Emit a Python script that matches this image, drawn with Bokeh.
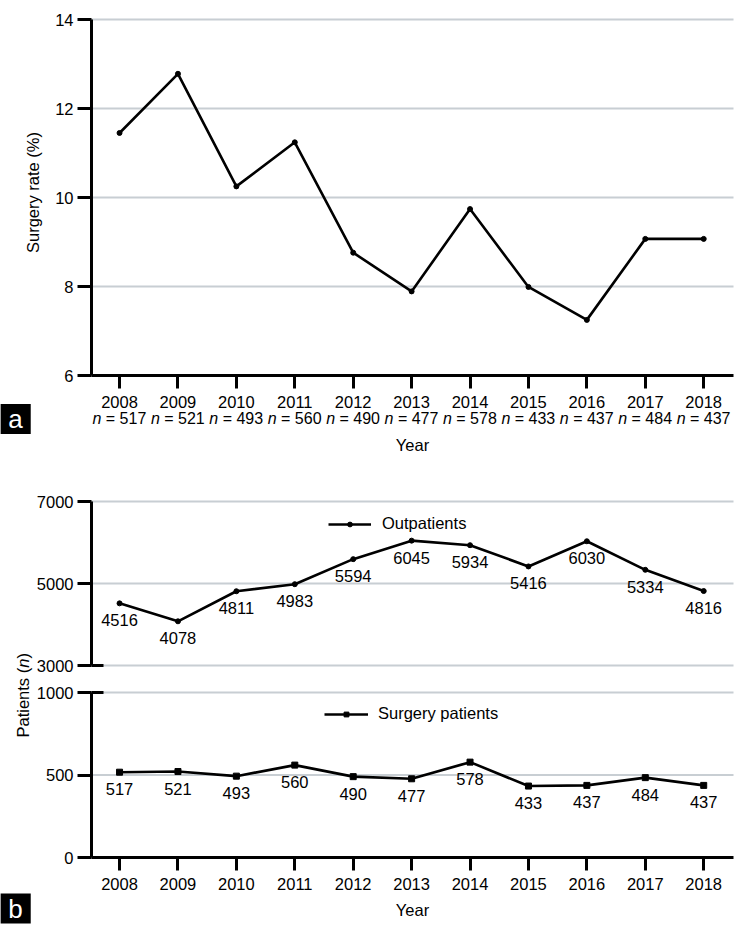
import math
from bokeh.plotting import figure
from bokeh.models import (Range1d, FixedTicker, LabelSet, Label, ColumnDataSource,
                          Legend, LegendItem, LinearAxis)
from bokeh.layouts import column
from bokeh.core.properties import value
from bokeh.embed import file_html
from bokeh.resources import INLINE

# ---------------- data ----------------
years = [2008, 2009, 2010, 2011, 2012, 2013, 2014, 2015, 2016, 2017, 2018]
surgery_rate = [11.45, 12.78, 10.25, 11.24, 8.76, 7.89, 9.74, 7.99, 7.25, 9.07, 9.07]
outpatients = [4516, 4078, 4811, 4983, 5594, 6045, 5934, 5416, 6030, 5334, 4816]
surgery_patients = [517, 521, 493, 560, 490, 477, 578, 433, 437, 484, 437]
rate_ticks = [6, 8, 10, 12, 14]
out_ticks = [3000, 5000, 7000]
surg_ticks = [0, 500, 1000]

FONT = "Liberation Sans"
FS = "16.5px"
GRID = "#c8ced3"
X_LO, X_HI = 2007.52, 2018.51      # extent of the plotted x axis
W = 745                            # canvas width
AX_L = 91                          # pixel position of the y axes
PPY = 642 / (X_HI - X_LO)          # pixels per year
XR = Range1d(X_LO - AX_L / PPY, X_LO + (W - AX_L) / PPY)
BRK = 12 / PPY                     # length of the axis-break stubs


def base_fig(height, yr):
    p = figure(width=W, height=height, x_range=XR, y_range=yr, toolbar_location=None,
               output_backend="svg", min_border=0, x_axis_location=None,
               y_axis_location=None, outline_line_color=None)
    p.grid.visible = False
    return p


def y_axis(p, ticks, bounds, rname="default"):
    ax = LinearAxis(fixed_location=X_LO, bounds=bounds, y_range_name=rname,
                    ticker=FixedTicker(ticks=ticks), axis_line_width=3,
                    major_tick_line_width=3, major_tick_out=14, major_tick_in=0,
                    minor_tick_out=0, major_label_standoff=4,
                    major_label_text_font=FONT, major_label_text_font_size=FS,
                    major_label_text_color="black")
    p.add_layout(ax, "left")


def x_axis(p, loc, rname="default"):
    ax = LinearAxis(fixed_location=loc, bounds=(X_LO, X_HI), y_range_name=rname,
                    ticker=FixedTicker(ticks=years), axis_line_width=3,
                    major_tick_line_width=3, major_tick_out=13, major_tick_in=0,
                    minor_tick_out=0, major_label_standoff=7,
                    major_label_text_font=FONT, major_label_text_font_size=FS,
                    major_label_text_color="black")
    p.add_layout(ax, "below")


def grid(p, ticks, rname="default"):
    p.segment(x0=[X_LO] * len(ticks), x1=[X_HI] * len(ticks), y0=ticks, y1=ticks,
              line_color=GRID, line_width=2, y_range_name=rname)


def tag(p, txt, y, y_off, rname="default"):
    p.add_layout(Label(x=X_LO, y=y, x_offset=15 - AX_L, y_offset=y_off, text=txt,
                       y_range_name=rname, text_align="center", text_baseline="middle",
                       text_color="white", text_font=FONT, text_font_size="26px",
                       background_fill_color="black",
                       padding=dict(left=8, right=8, top=0, bottom=0)))


def value_labels(p, ys, rname="default"):
    src = ColumnDataSource(dict(x=years, y=ys, t=[str(v) for v in ys]))
    p.add_layout(LabelSet(x="x", y="y", text="t", source=src, y_offset=-17,
                          y_range_name=rname, text_align="center", text_baseline="middle",
                          text_font=value(FONT), text_font_size=FS, text_color="black"))


# ---------------- panel a ----------------
HA = 470
PXA = 44.5                                   # pixels per rate unit
pA = base_fig(HA, Range1d(14 - (HA - 19) / PXA, 14 + 19 / PXA))
grid(pA, [8, 10, 12, 14])
pA.line(years, surgery_rate, line_width=2.6, color="black")
pA.scatter(years, surgery_rate, size=5, color="black")
y_axis(pA, rate_ticks, (6, 14))
x_axis(pA, 6)

src_n = ColumnDataSource(dict(x=years, y=[6] * len(years), n=["n"] * len(years),
                              v=["= %d" % v for v in surgery_patients]))
pA.add_layout(LabelSet(x="x", y="y", text="n", source=src_n, x_offset=-27, y_offset=-43,
                       text_align="left", text_baseline="middle",
                       text_font=value(FONT), text_font_size="16px",
                       text_font_style="italic", text_color="black"))
pA.add_layout(LabelSet(x="x", y="y", text="v", source=src_n, x_offset=-13.7, y_offset=-43,
                       text_align="left", text_baseline="middle",
                       text_font=value(FONT), text_font_size="16px", text_color="black"))
pA.add_layout(Label(x=(X_LO + X_HI) / 2, y=6, y_offset=-69, text="Year",
                    text_align="center", text_baseline="middle", text_font=FONT,
                    text_font_size=FS, text_color="black"))
pA.add_layout(Label(x=X_LO, y=10, x_offset=32.5 - AX_L, y_offset=5,
                    text="Surgery rate (%)", angle=math.pi / 2, text_align="center",
                    text_baseline="middle", text_font=FONT, text_font_size=FS,
                    text_color="black"))
tag(pA, "a", 6, -43.5)

# ---------------- panel b (broken y axis: two ranges on one canvas) ----------------
HB = 455
PXO = 0.041                                  # pixels per outpatient
PXS = 0.165                                  # pixels per surgery patient
pB = base_fig(HB, Range1d(3000 - (HB - 195) / PXO, 7000 + 31 / PXO))
pB.extra_y_ranges = {"surg": Range1d(0 - (HB - 387) / PXS, 1000 + 222 / PXS)}

grid(pB, out_ticks)
grid(pB, [500, 1000], "surg")
pB.segment(x0=[X_LO], y0=[3000], x1=[X_LO + BRK], y1=[3000], line_width=3, color="black")
pB.segment(x0=[X_LO], y0=[1000], x1=[X_LO + BRK], y1=[1000], line_width=3, color="black",
           y_range_name="surg")

r1 = pB.line(years, outpatients, line_width=2.6, color="black")
r2 = pB.scatter(years, outpatients, size=5, color="black")
r3 = pB.line(years, surgery_patients, line_width=2.6, color="black", y_range_name="surg")
r4 = pB.scatter(years, surgery_patients, size=6, marker="square", color="black",
                y_range_name="surg")

y_axis(pB, out_ticks, (3000, 7000))
y_axis(pB, surg_ticks, (0, 1000), "surg")
x_axis(pB, 0, "surg")

value_labels(pB, outpatients)
value_labels(pB, surgery_patients, "surg")

leg_kw = dict(glyph_height=12, label_height=12, padding=0, margin=0,
              border_line_color=None, background_fill_alpha=0, label_text_font=FONT,
              label_text_font_size=FS, label_text_color="black")
pB.add_layout(Legend(items=[LegendItem(label="Outpatients", renderers=[r1, r2])],
                     location=(328, 392), glyph_width=43, label_standoff=11, **leg_kw))
pB.add_layout(Legend(items=[LegendItem(label="Surgery patients", renderers=[r3, r4])],
                     location=(324, 202), glyph_width=44, label_standoff=10, **leg_kw))

pB.add_layout(Label(x=(X_LO + X_HI) / 2, y=0, y_offset=-52, y_range_name="surg",
                    text="Year", text_align="center", text_baseline="middle",
                    text_font=FONT, text_font_size=FS, text_color="black"))
parts = [("Patients (", "normal", 0.0), ("n", "italic", 69.7), (")", "normal", 78.9)]
for txt, st, off in parts:
    pB.add_layout(Label(x=X_LO, y=3000, x_offset=22 - AX_L, y_offset=-72 + off,
                        text=txt, angle=math.pi / 2, text_align="left",
                        text_baseline="middle", text_font=FONT, text_font_size=FS,
                        text_font_style=st, text_color="black"))
tag(pB, "b", 0, -51, "surg")

layout = column(pA, pB)
open("out.html", "w").write(file_html(layout, INLINE))
